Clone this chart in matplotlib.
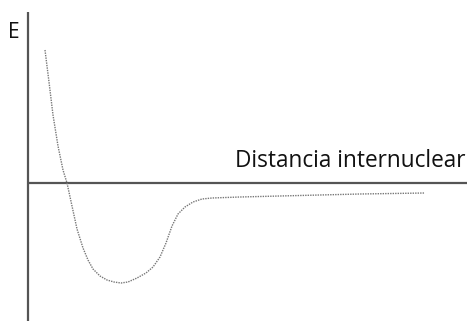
import matplotlib.pyplot as plt

# Potential-energy curve of a diatomic molecule (schematic units)
# r: internuclear distance, E: energy
r = [1.7, 2.1, 2.5, 3.0, 3.5, 3.9, 4.4, 4.9, 5.5, 6.0, 6.5, 7.2, 7.9, 8.6,
     9.3, 10.0, 10.9, 11.8, 12.5, 13.2, 13.8, 14.4, 15.0, 15.7, 16.5, 17.4,
     18.4, 21.2, 27.2, 33.2, 39.7]
E = [13.3, 10.1, 6.8, 3.7, 1.3, 0.0, -2.3, -4.6, -6.5, -7.7, -8.6, -9.3, -9.7,
     -9.9, -10.0, -9.9, -9.5, -9.0, -8.4, -7.4, -6.0, -4.3, -3.1, -2.4, -1.9,
     -1.6, -1.5, -1.4, -1.25, -1.1, -1.0]

fig = plt.figure(figsize=(4.72, 3.21), dpi=100)
ax = fig.add_axes([0, 0, 1, 1])
ax.set_xlim(-2.8, 44.4)
ax.set_ylim(-13.8, 18.3)
ax.axis('off')

# Axes drawn as plain lines through the origin
ax.plot([0, 0], [-13.8, 17.1], color='#555555', lw=1.6, solid_capstyle='butt')
ax.plot([0, 43.9], [0, 0], color='#555555', lw=1.6, solid_capstyle='butt')

# Energy curve
ax.plot(r, E, color='#777777', lw=1.0, linestyle=(0, (1, 0.8)))

ax.text(-0.8, 15.0, 'E', fontsize=15, family='Open Sans', ha='right', va='center',
        color='#111111')
ax.text(43.7, 1.0, 'Distancia internuclear', fontsize=16.3, family='Open Sans',
        ha='right', va='bottom', color='#111111')

fig.savefig('out.png', dpi=100)
